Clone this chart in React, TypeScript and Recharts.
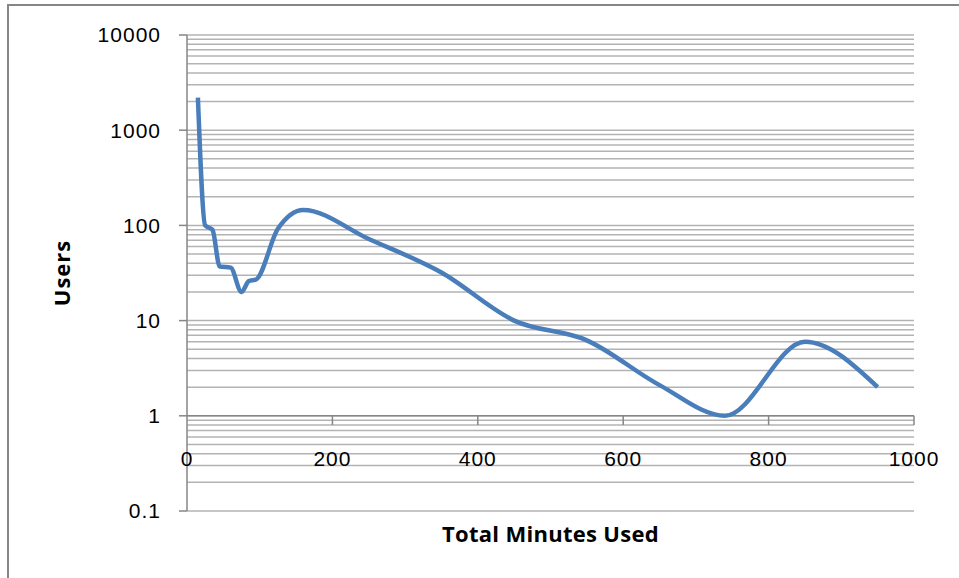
import React from "react";
import { LineChart, Line, XAxis, YAxis, ReferenceLine } from "recharts";

const minutes = [15, 25, 35, 45, 60, 75, 85, 95, 125, 160, 250, 350, 450, 550, 650, 740, 850, 950];
const users = [2200, 100, 90, 37, 36, 20, 26, 27, 92, 145, 72, 32, 10, 6.2, 2.1, 1, 6, 2];
const xTicks = [0, 200, 400, 600, 800, 1000];
const yTicks = [0.1, 1, 10, 100, 1000, 10000];
const multipliers = [1, 2, 3, 4, 5, 6, 7, 8, 9];

const data = minutes.map((m, i) => ({ minutes: m, users: users[i] }));
// every 1..9 step of each decade, plus the top line
const gridValues = yTicks
  .slice(0, -1)
  .flatMap((d) => multipliers.map((k) => +(d * k).toPrecision(3)))
  .concat([10000]);

const AXIS = "#868686";
const TICK_FONT = "'Liberation Sans', Arial, sans-serif";
const TITLE_FONT = "'Open Sans', sans-serif";

const XTick = (props: any) => {
  const { x, y, payload } = props;
  return (
    <text x={x} y={y - 53} textAnchor="middle" dominantBaseline="central" fontFamily={TICK_FONT} fontSize={21} letterSpacing={1} fill="#000">
      {payload.value}
    </text>
  );
};

export default function App() {
  return (
    <div style={{ position: "absolute", left: 0, top: 0, width: 959, height: 578, background: "#fff", overflow: "hidden" }}>
      <div style={{ position: "absolute", left: 7, top: 4, width: 1000, height: 700, borderTop: `2px solid ${AXIS}`, borderLeft: `2px solid ${AXIS}` }} />
      <LineChart width={959} height={578} data={data} margin={{ top: 35, right: 45, bottom: 37, left: 0 }} style={{ position: "absolute", left: 0, top: 0 }}>
        <XAxis
          dataKey="minutes"
          type="number"
          domain={[0, 1000]}
          ticks={xTicks}
          axisLine={false}
          tickLine={false}
          tickSize={0}
          tickMargin={0}
          height={30}
          tick={<XTick />}
          label={{
            content: ({ viewBox }: any) => (
              <text x={viewBox.x + viewBox.width / 2} y={viewBox.y + 22} textAnchor="middle" dominantBaseline="central" fontFamily={TITLE_FONT} fontWeight="bold" fontSize={22} letterSpacing={0.3} fill="#000">
                Total Minutes Used
              </text>
            ),
          }}
        />
        <YAxis
          dataKey="users"
          scale="log"
          domain={[0.1, 10000]}
          ticks={yTicks}
          allowDataOverflow
          width={187}
          axisLine={{ stroke: AXIS, strokeWidth: 1.5 }}
          tickLine={{ stroke: AXIS, strokeWidth: 1.5 }}
          tickSize={8}
          tickMargin={18}
          tick={{ fontFamily: TICK_FONT, fontSize: 21, fill: "#000", letterSpacing: 1 }}
          tickFormatter={(v: number) => String(v)}
          label={{
            content: ({ viewBox }: any) => (
              <text
                x={viewBox.x + 61}
                y={viewBox.y + viewBox.height / 2}
                transform={`rotate(-90 ${viewBox.x + 61} ${viewBox.y + viewBox.height / 2})`}
                textAnchor="middle"
                dominantBaseline="central"
                fontFamily={TITLE_FONT}
                fontWeight="bold"
                fontSize={22}
                letterSpacing={1}
                fill="#000"
              >
                Users
              </text>
            ),
          }}
        />
        {gridValues.map((g) => (
          <ReferenceLine key={`g-${g}`} y={g} stroke="#b3b3b3" strokeWidth={1.5} />
        ))}
        <ReferenceLine y={1} stroke={AXIS} strokeWidth={1.5} />
        {xTicks.slice(1).map((t) => (
          <ReferenceLine key={t} segment={[{ x: t, y: 1 }, { x: t, y: 0.8 }]} stroke={AXIS} strokeWidth={1.5} />
        ))}
        <Line type="monotone" dataKey="users" stroke="#4a7ebb" strokeWidth={4.5} dot={false} isAnimationActive={false} />
      </LineChart>
    </div>
  );
}
